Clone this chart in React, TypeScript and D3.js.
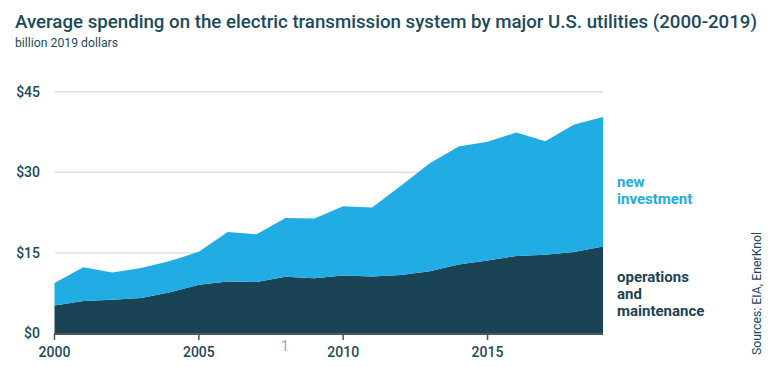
import React, { useEffect, useRef } from 'react';
import * as d3 from 'd3';

const years = [2000, 2001, 2002, 2003, 2004, 2005, 2006, 2007, 2008, 2009, 2010, 2011, 2012, 2013, 2014, 2015, 2016, 2017, 2018, 2019];
// operations and maintenance (billion 2019 dollars)
const operations = [5.2, 6.05, 6.3, 6.6, 7.7, 9.05, 9.7, 9.6, 10.55, 10.3, 10.8, 10.6, 10.9, 11.6, 12.85, 13.6, 14.4, 14.65, 15.15, 16.2];
// new investment (billion 2019 dollars)
const newInvestment = [4.2, 6.3, 5.05, 5.6, 5.8, 6.15, 9.2, 8.85, 10.95, 11.1, 12.9, 12.85, 16.6, 20.1, 21.95, 22.1, 23.0, 21.15, 23.75, 24.1];
const yTicks = [0, 15, 30, 45];
const xTicks = [2000, 2005, 2010, 2015];

const DARK = '#1a4456';
const LIGHT = '#21ade3';
const TEXT = '#1b4a5e';
const FONT = "Roboto, 'DejaVu Sans', sans-serif";

interface Row {
  year: number;
  om: number;
  ni: number;
}

const App: React.FC = () => {
  const svgRef = useRef<SVGSVGElement>(null);

  useEffect(() => {
    if (!svgRef.current) return;
    const svg = d3.select(svgRef.current);
    svg.selectAll('*').remove();

    const rows: Row[] = years.map((y, i) => ({ year: y, om: operations[i], ni: newInvestment[i] }));

    const x = d3.scaleLinear().domain([2000, 2019]).range([54.5, 603]);
    const y = d3.scaleLinear().domain([0, 45]).range([333.5, 91.7]);

    // title
    svg.append('text')
      .attr('x', 15)
      .attr('y', 28)
      .attr('fill', TEXT)
      .style('font-family', FONT)
      .style('font-size', '18.5px')
      .style('font-weight', 500)
      .attr('textLength', 742)
      .attr('lengthAdjust', 'spacingAndGlyphs')
      .text('Average spending on the electric transmission system by major U.S. utilities (2000-2019)');

    svg.append('text')
      .attr('x', 15)
      .attr('y', 47)
      .attr('fill', TEXT)
      .style('font-family', FONT)
      .style('font-size', '12.5px')
      .attr('textLength', 103)
      .attr('lengthAdjust', 'spacingAndGlyphs')
      .text('billion 2019 dollars');

    // grid lines
    svg.append('g')
      .selectAll('line')
      .data(yTicks.filter(d => d > 0))
      .enter().append('line')
      .attr('x1', 55)
      .attr('x2', 603)
      .attr('y1', d => y(d))
      .attr('y2', d => y(d))
      .attr('stroke', '#dcdfe2')
      .attr('stroke-width', 1.5);

    // y labels
    svg.append('g')
      .selectAll('text')
      .data(yTicks)
      .enter().append('text')
      .attr('x', 40)
      .attr('y', d => y(d))
      .attr('dy', '0.35em')
      .attr('text-anchor', 'end')
      .attr('fill', TEXT)
      .style('font-family', FONT)
      .style('font-size', '14px')
      .style('font-weight', 500)
      .text(d => `$${d}`);

    // stacked areas
    const stack = d3.stack<Row>().keys(['om', 'ni']);
    const series = stack(rows);
    const area = d3.area<d3.SeriesPoint<Row>>()
      .x(d => x(d.data.year))
      .y0(d => y(d[0]))
      .y1(d => y(d[1]));

    svg.append('g')
      .selectAll('path')
      .data(series)
      .enter().append('path')
      .attr('fill', (_, i) => (i === 0 ? DARK : LIGHT))
      .attr('d', d => area(d));

    // x axis
    const axis = svg.append('g');
    axis.append('line')
      .attr('x1', x(2000) - 0.5)
      .attr('x2', x(2019))
      .attr('y1', 334)
      .attr('y2', 334)
      .attr('stroke', '#4b5860')
      .attr('stroke-width', 2);
    axis.selectAll('line.tick')
      .data(xTicks)
      .enter().append('line')
      .attr('class', 'tick')
      .attr('x1', d => x(d))
      .attr('x2', d => x(d))
      .attr('y1', 334)
      .attr('y2', 340)
      .attr('stroke', '#4b5860')
      .attr('stroke-width', 1.5);
    axis.selectAll('text')
      .data(xTicks)
      .enter().append('text')
      .attr('x', d => x(d))
      .attr('y', 357)
      .attr('text-anchor', 'middle')
      .attr('fill', TEXT)
      .style('font-family', FONT)
      .style('font-size', '14px')
      .style('font-weight', 500)
      .text(d => d);

    // stray page mark
    svg.append('text')
      .attr('x', 285)
      .attr('y', 351)
      .attr('text-anchor', 'middle')
      .attr('fill', '#8fa8b3')
      .style('font-family', FONT)
      .style('font-size', '14px')
      .text('1');

    // legend labels
    const legend = [
      { lines: ['new', 'investment'], color: LIGHT, y0: 187 },
      { lines: ['operations', 'and', 'maintenance'], color: DARK, y0: 282 },
    ];
    legend.forEach(l => {
      l.lines.forEach((t, i) => {
        svg.append('text')
          .attr('x', 617)
          .attr('y', l.y0 + i * 17)
          .attr('fill', l.color)
          .style('font-family', FONT)
          .style('font-size', '15px')
          .style('font-weight', 700)
          .text(t);
      });
    });

    // source
    svg.append('text')
      .attr('transform', 'translate(761,355) rotate(-90)')
      .attr('fill', TEXT)
      .style('font-family', FONT)
      .style('font-size', '13px')
      .attr('textLength', 123)
      .attr('lengthAdjust', 'spacingAndGlyphs')
      .text('Sources: EIA, EnerKnol');
  }, []);

  return (
    <svg
      ref={svgRef}
      width={774}
      height={367}
      style={{ position: 'absolute', left: 0, top: 0, background: '#fff' }}
    />
  );
};

export default App;
